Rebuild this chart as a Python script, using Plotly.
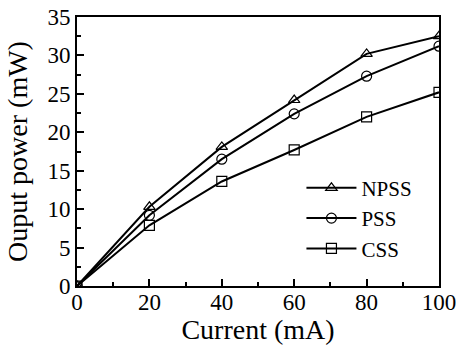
import plotly.graph_objects as go

current = [0, 20, 40, 60, 80, 100]
npss = [0, 10.3, 18.1, 24.2, 30.2, 32.5]
pss = [0, 9.2, 16.5, 22.4, 27.3, 31.2]
css = [0, 7.9, 13.6, 17.7, 22.0, 25.2]

font = "Times New Roman"
fig = go.Figure()
for name, vals, sym in [("NPSS", npss, "triangle-up-open"), ("PSS", pss, "circle-open"), ("CSS", css, "square-open")]:
    fig.add_trace(go.Scatter(x=current, y=vals, name=name, mode="lines+markers",
                             line=dict(color="black", width=2),
                             marker=dict(symbol=sym, size=10, color="black", line=dict(width=1.2))))

fig.update_layout(
    width=457, height=345, margin=dict(l=77, r=18, t=17, b=59),
    paper_bgcolor="white", plot_bgcolor="white",
    font=dict(family=font, size=23, color="black"),
    showlegend=True,
    legend=dict(x=0.62, y=0.44, xanchor="left", yanchor="top", bgcolor="rgba(0,0,0,0)",
                font=dict(size=21), itemwidth=50, tracegroupgap=0),
)
fig.update_xaxes(range=[0, 100], tickvals=[0, 20, 40, 60, 80, 100], ticks="inside", ticklen=7,
                 tickwidth=1.5, tickcolor="black", showline=True, linecolor="black", linewidth=2,
                 mirror=True, showgrid=False, zeroline=False, automargin=False, ticklabelstandoff=-6,
                 ticklabeloverflow="allow",
                 minor=dict(ticks="inside", ticklen=4, dtick=10, tickcolor="black", tickwidth=1.5),
                 title=dict(text="Current (mA)", standoff=4))
fig.update_yaxes(range=[0, 35], tickvals=[0, 5, 10, 15, 20, 25, 30, 35], ticks="inside", ticklen=7,
                 tickwidth=1.5, tickcolor="black", showline=True, linecolor="black", linewidth=2,
                 mirror=True, showgrid=False, zeroline=False, automargin=False,
                 ticklabeloverflow="allow",
                 minor=dict(ticks="inside", ticklen=4, dtick=2.5, tickcolor="black", tickwidth=1.5),
                 title=dict(text="Ouput power (mW)", standoff=12))
fig.write_html("out.html", config={"displayModeBar": False},
               post_script="document.body.style.margin='0';document.body.style.overflow='hidden';")
